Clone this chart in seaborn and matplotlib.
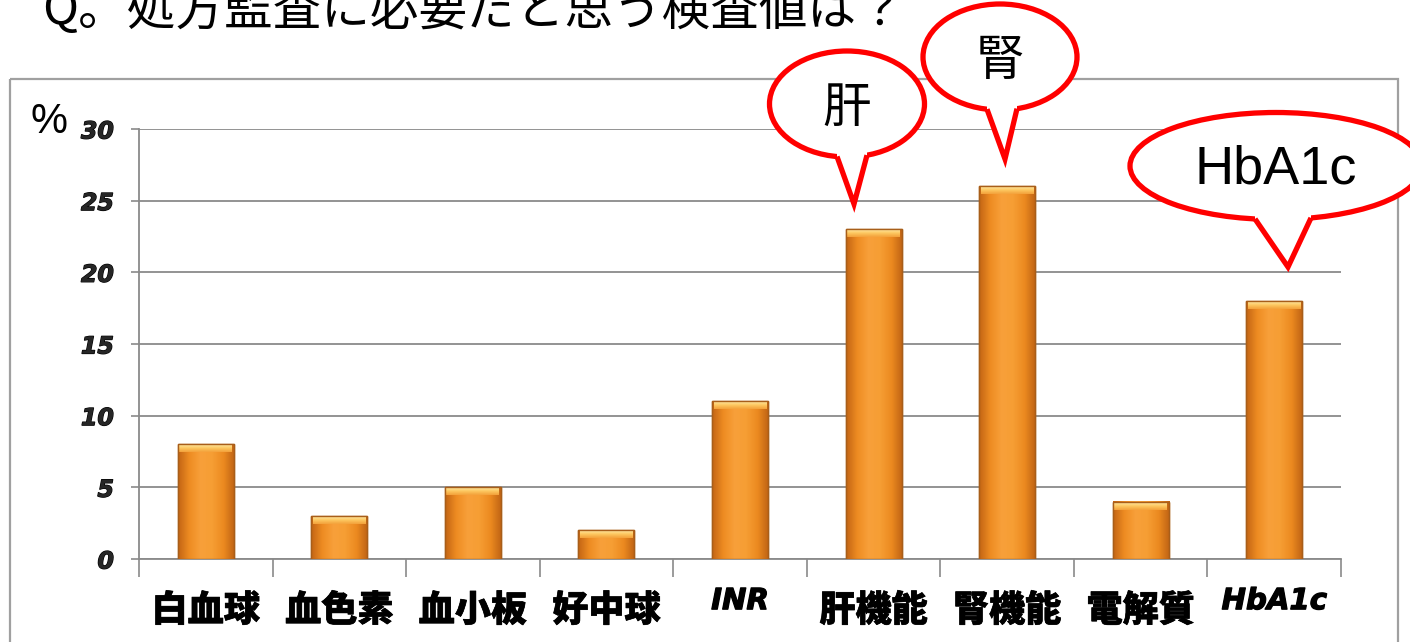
import numpy as np
import pandas as pd
import matplotlib
matplotlib.use("Agg")
import matplotlib.pyplot as plt
import matplotlib.patheffects as pe
import seaborn as sns
from matplotlib.patches import Ellipse, Polygon, Rectangle
from matplotlib.colors import LinearSegmentedColormap

# ---- data ----
categories = ["白血球", "血色素", "血小板", "好中球", "INR", "肝機能", "腎機能", "電解質", "HbA1c"]
percent = [8, 3, 5, 2, 11, 23, 26, 4, 18]
y_ticks = [0, 5, 10, 15, 20, 25, 30]
title = "Q。処方監査に必要だと思う検査値は？"
bubble_texts = ["肝", "腎", "HbA1c"]

# ---- style ----
sns.set_theme(style="white")
plt.rcParams["font.family"] = ["Noto Sans CJK JP", "DejaVu Sans"]

W, H = 1410, 642
fig = plt.figure(figsize=(W / 100, H / 100), dpi=100)
fig.patch.set_facecolor("white")

ax = fig.add_axes([139 / W, 1 - 559 / H, 1202 / W, 430 / H])
df = pd.DataFrame({"検査値": categories, "割合": percent})
sns.barplot(data=df, x="検査値", y="割合", order=categories, color="#F39A2E",
            saturation=1, width=0.42, edgecolor="#B4661C", linewidth=1.0,
            ax=ax, zorder=3)

# shaded bar bodies with a light bevelled cap
body_cmap = LinearSegmentedColormap.from_list(
    "body", ["#C26414", "#EE8C22", "#F8A03A", "#F69E34", "#EC8A20", "#BE6214"])
cap_cmap = LinearSegmentedColormap.from_list(
    "cap", ["#FFE9A8", "#FDC860", "#F3A03A"])
hgrad = np.linspace(0, 1, 256).reshape(1, -1)
vgrad = np.linspace(0, 1, 64).reshape(-1, 1)
cap_h = 0.55
for p in list(ax.patches):
    x0, w, h = p.get_x(), p.get_width(), p.get_height()
    ax.imshow(hgrad, cmap=body_cmap, extent=(x0, x0 + w, 0, h),
              aspect="auto", zorder=3.1, interpolation="bicubic")
    ax.imshow(vgrad, cmap=cap_cmap, extent=(x0 + 0.012, x0 + w - 0.012, h - cap_h, h),
              aspect="auto", zorder=3.2, interpolation="bicubic")
    ax.add_patch(Rectangle((x0, 0), w, h, fill=False, ec="#A85E1A", lw=1.0, zorder=3.3))

ax.set_xlim(-0.5, len(categories) - 0.5)
ax.set_ylim(0, 30)
ax.set_xlabel("")
ax.set_ylabel("")
ax.set_facecolor("white")

grid_c = "#8A8A8A"
ax.grid(axis="y", color=grid_c, lw=1.3, zorder=0)
ax.grid(axis="x", visible=False)
ax.set_axisbelow(True)
for s in ["top", "right"]:
    ax.spines[s].set_visible(False)
for s in ["left", "bottom"]:
    ax.spines[s].set_color(grid_c)
    ax.spines[s].set_linewidth(1.3)

heavy_latin = [pe.withStroke(linewidth=0.9, foreground="black")]
heavy_cjk = [pe.withStroke(linewidth=0.5, foreground="black")]

ax.set_yticks(y_ticks)
ax.set_yticklabels([str(v) for v in y_ticks], fontsize=17,
                   family=["DejaVu Sans"], fontweight="bold", style="oblique")
for lbl in ax.get_yticklabels():
    lbl.set_path_effects(heavy_latin)
ax.tick_params(axis="y", left=True, length=6, width=1.2, color=grid_c, pad=12)

ax.set_xticks(np.arange(len(categories)))
ax.set_xticklabels(categories)
ax.tick_params(axis="x", which="major", bottom=False, length=0, pad=24)
ax.set_xticks(np.arange(-0.5, len(categories), 1), minor=True)
ax.tick_params(axis="x", which="minor", bottom=True, length=13, width=1.2, color=grid_c)
for lbl in ax.get_xticklabels():
    txt = lbl.get_text()
    if txt.isascii():
        lbl.set_family(["DejaVu Sans"])
        lbl.set_fontweight("bold")
        lbl.set_style("oblique")
        lbl.set_fontsize(21)
        lbl.set_y(0.012)
        lbl.set_path_effects(heavy_latin)
    else:
        lbl.set_family(["Noto Sans CJK JP", "DejaVu Sans"])
        lbl.set_fontweight("heavy")
        lbl.set_fontsize(26)
        lbl.set_path_effects(heavy_cjk)
    lbl.set_color("black")

# ---- overlay in pixel coordinates: frame, title, unit, callouts ----
ov = fig.add_axes([0, 0, 1, 1], zorder=5)
ov.set_xlim(0, W)
ov.set_ylim(H, 0)
ov.axis("off")
ov.patch.set_alpha(0)

ov.add_patch(Rectangle((10, 79), 1388, 620, fill=False, ec="#A0A0A0", lw=1.6,
                       clip_on=False, zorder=0))
ov.text(42, 25, title, fontsize=35, va="baseline", ha="left", color="black",
        family=["Noto Sans CJK JP", "DejaVu Sans"])
ov.text(31, 122, "%", fontsize=30, va="center", ha="left", color="black",
        family=["Liberation Sans", "DejaVu Sans"])


def edge_y(cx, cy, w, h, x):
    t = np.clip((x - cx) / (w / 2), -1, 1)
    return cy + (h / 2) * np.sqrt(1 - t ** 2)


def bubble(cx, cy, w, h, bx_l, bx_r, tip, text, size, family):
    red = "#FF0000"
    lw = 3.8
    ov.add_patch(Ellipse((cx, cy), w, h, fc="white", ec=red, lw=lw, zorder=1,
                         clip_on=False))
    yl = edge_y(cx, cy, w, h, bx_l)
    yr = edge_y(cx, cy, w, h, bx_r)
    ov.add_patch(Polygon([(bx_l, yl - 9), (bx_l, yl), tip, (bx_r, yr), (bx_r, yr - 9)],
                         closed=True, fc="white", ec="none", zorder=2, clip_on=False))
    ov.plot([bx_l, tip[0], bx_r], [yl, tip[1], yr], color=red, lw=lw,
            solid_joinstyle="miter", solid_capstyle="butt", zorder=3, clip_on=False)
    ov.text(cx, cy + 4, text, fontsize=size, ha="center", va="center",
            family=family, color="black", zorder=4)


cjk = ["Noto Sans CJK JP", "DejaVu Sans"]
latin = ["Liberation Sans", "DejaVu Sans"]
bubble(847, 104, 155, 106, 837, 867, (854, 204), bubble_texts[0], 35, cjk)
bubble(1000, 57, 154, 106, 987, 1017, (1005, 159), bubble_texts[1], 35, cjk)
bubble(1276, 166, 292, 107, 1255, 1311, (1288, 267), bubble_texts[2], 39, latin)

fig.savefig("out.png", dpi=100, facecolor="white")
